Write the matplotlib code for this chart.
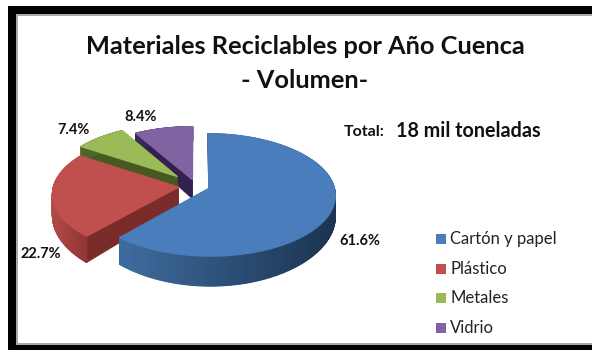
import numpy as np
import matplotlib
matplotlib.use("Agg")
import matplotlib.pyplot as plt
from matplotlib.colors import to_rgb
from matplotlib.patches import Polygon, Rectangle

categories = ["Cartón y papel", "Plástico", "Metales", "Vidrio"]
values = [61.6, 22.7, 7.4, 8.4]
pct_labels = ["61.6%", "22.7%", "7.4%", "8.4%"]
explode = [0.11, 0.14, 0.22, 0.11]

top_colors = ["#4a7dbb", "#c0504d", "#9bbb59", "#8064a2"]
side_left = ["#3f6c9f", "#b24a47", "#4f6428", "#3a2a58"]
side_right = ["#1b3350", "#8f3533", "#4f6428", "#3a2a58"]
cut_colors = ["#2a4a70", "#7a2c2a", "#46591f", "#33204f"]

plt.rcParams["font.family"] = ["Lato", "DejaVu Sans"]

fig = plt.figure(figsize=(5.92, 3.5), dpi=100)
ax = fig.add_axes([0, 0, 1, 1])
ax.set_xlim(0, 592)
ax.set_ylim(350, 0)
ax.axis("off")

# black bands left, top and bottom, with a thin grey inner edge
ax.add_patch(Rectangle((8, 6), 584, 344, fc="black", ec="none"))
ax.add_patch(Rectangle((16, 14), 576, 331, fc="#a8a8a8", ec="none"))
ax.add_patch(Rectangle((18, 16), 574, 327, fc="white", ec="none"))

# tilted disc: unit circle coords -> screen, with some perspective
cx, cy = 196, 186
sx, sy, persp = 125, 60, 0.107


def project(u, v):
    w = 1 + persp * v
    return cx + sx * u / w, cy - sy * v / w


def depth(v):
    # nearer parts of the wall look taller
    return 20 / (1 + 0.32 * v)


def rim(a1, a2, du, dv):
    t = np.radians(np.linspace(a1, a2, 240))
    u, v = du + np.sin(t), dv + np.cos(t)
    x, y = project(u, v)
    return x, y, depth(v)


angles = np.cumsum([0] + values) / sum(values) * 360

# back slices first so the front ones cover them
for i in [3, 2, 1, 0]:
    a1, a2 = angles[i], angles[i + 1]
    mid = np.radians((a1 + a2) / 2)
    du, dv = explode[i] * np.sin(mid), explode[i] * np.cos(mid)
    ax0, ay0 = project(du, dv)
    d0 = depth(dv)
    xs, ys, ds = rim(a1, a2, du, dv)

    # flat cut faces
    for j in [0, -1]:
        ax.add_patch(Polygon([(ax0, ay0), (xs[j], ys[j]), (xs[j], ys[j] + ds[j]), (ax0, ay0 + d0)],
                             fc=cut_colors[i], ec=cut_colors[i], lw=0.3))

    # outer wall, shaded along the arc
    left = np.array(to_rgb(side_left[i]))
    right = np.array(to_rgb(side_right[i]))
    for k in range(len(xs) - 1):
        f = np.clip((xs[k] - xs.min()) / max(xs.max() - xs.min(), 1), 0, 1)
        col = left + (right - left) * f
        ax.add_patch(Polygon([(xs[k], ys[k]), (xs[k + 1], ys[k + 1]),
                              (xs[k + 1], ys[k + 1] + ds[k + 1]), (xs[k], ys[k] + ds[k])],
                             fc=col, ec=col, lw=0.8))

    ax.add_patch(Polygon(np.r_[[(ax0, ay0)], np.c_[xs, ys]], fc=top_colors[i], ec=top_colors[i], lw=0.9))

# title and total
ax.text(305, 46, "Materiales Reciclables por Año Cuenca", ha="center", va="center",
        fontsize=18.3, fontweight="bold", color="#111111")
ax.text(305, 81, "- Volumen-", ha="center", va="center", fontsize=18.3, fontweight="bold", color="#111111")
ax.text(344, 132, "Total:", ha="left", va="center", fontsize=11.5, fontweight="bold", color="#111111")
ax.text(396, 131, "18 mil toneladas", ha="left", va="center", fontsize=14.2, fontweight="bold", color="#111111")

# percentage labels
label_pos = [(360, 241), (41, 254), (74, 130), (141, 117)]
for txt, (px, py) in zip(pct_labels, label_pos):
    ax.text(px, py, txt, ha="center", va="center", fontsize=10.5, fontweight="bold", color="#111111")

# legend
for i, name in enumerate(categories):
    py = 239 + i * 29.6
    ax.add_patch(Rectangle((436, py - 5), 10, 10, fc=top_colors[i], ec="none"))
    ax.text(450, py, name, ha="left", va="center", fontsize=12, color="#222222")

fig.savefig("out.png", dpi=100)
